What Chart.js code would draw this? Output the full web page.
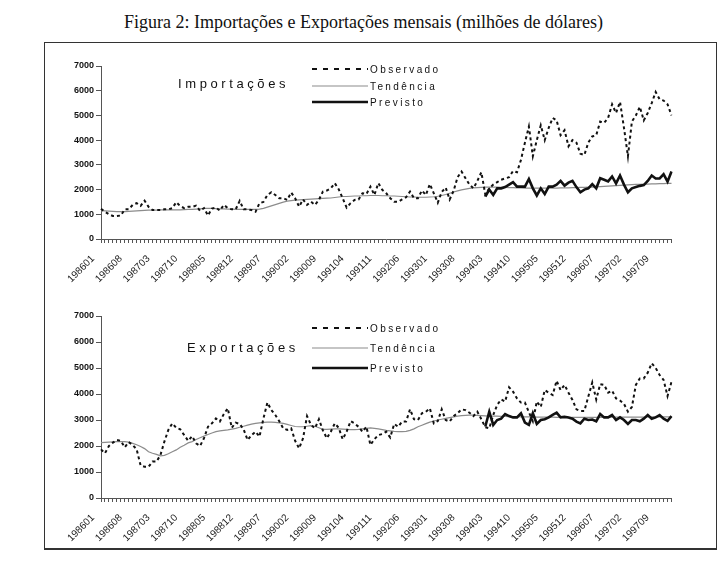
<!DOCTYPE html>
<html lang="pt">
<head>
<meta charset="utf-8">
<script src="https://cdn.jsdelivr.net/npm/chart.js@4.4.1/dist/chart.umd.min.js"></script>
<style>
  body { margin: 0; width: 727px; height: 581px; background: #fff; position: relative; overflow: hidden;
         font-family: "Liberation Sans", Arial, sans-serif; }
  #titulo { position: absolute; left: 0; top: 12px; width: 727px; text-align: center;
            font-family: "Liberation Serif", "Times New Roman", serif; font-size: 18px; color: #111; }
  #moldura { position: absolute; left: 44px; top: 42px; width: 671px; height: 505px;
             border: 1px solid #333; border-bottom-width: 2px; }
  canvas { position: absolute; left: 50px; }
  .nome { position: absolute; font-size: 13px; letter-spacing: 3.6px; color: #111; }
  .leg { position: absolute; left: 312px; height: 14px; display: flex; align-items: center;
         font-size: 10px; letter-spacing: 2.4px; color: #111; }
  .leg svg { margin-right: 2px; }
</style>
</head>
<body>
<div id="titulo">Figura 2: Importações e Exportações mensais (milhões de dólares)</div>
<div id="moldura"></div>

<canvas id="graficoImp" width="640" height="240" style="top:56px"></canvas>
<canvas id="graficoExp" width="640" height="249" style="top:306px"></canvas>

<!-- rótulos e legendas dos painéis -->
<div class="nome" style="left:178px;top:76px">Importações</div>
<div class="leg" style="top:62px"><svg width="56" height="6"><line x1="0" y1="3" x2="56" y2="3" stroke="#111" stroke-width="2" stroke-dasharray="5,6"/></svg>Observado</div>
<div class="leg" style="top:79px"><svg width="56" height="6"><line x1="0" y1="3" x2="56" y2="3" stroke="#8c8c8c" stroke-width="1.2"/></svg>Tendência</div>
<div class="leg" style="top:95px"><svg width="56" height="6"><line x1="0" y1="3" x2="56" y2="3" stroke="#111" stroke-width="2.6"/></svg>Previsto</div>

<div class="nome" style="left:187px;top:340px">Exportações</div>
<div class="leg" style="top:321px"><svg width="56" height="6"><line x1="0" y1="3" x2="56" y2="3" stroke="#111" stroke-width="2" stroke-dasharray="5,6"/></svg>Observado</div>
<div class="leg" style="top:341px"><svg width="56" height="6"><line x1="0" y1="3" x2="56" y2="3" stroke="#8c8c8c" stroke-width="1.2"/></svg>Tendência</div>
<div class="leg" style="top:361px"><svg width="56" height="6"><line x1="0" y1="3" x2="56" y2="3" stroke="#111" stroke-width="2.6"/></svg>Previsto</div>

<script>
// meses 198601 .. 198801 (145 observações)
const meses = [];
for (let i = 0; i < 145; i++) {
  const ano = 1986 + Math.floor(i / 12);
  meses.push(`${ano}${String(i % 12 + 1).padStart(2, "0")}`);
}
const inicioPrevisto = 97; // 199402

// ----------------------
// Importações
// ----------------------
const impObservado = [
  1220,1100,1000,930,930,950,1200,1200,1380,1450,
  1340,1550,1300,1170,1170,1170,1200,1200,1250,1490,
  1330,1250,1300,1300,1350,1140,1250,950,1230,1270,
  1150,1380,1250,1200,1200,1540,1200,1200,1170,1100,
  1450,1500,1780,1890,1780,1650,1650,1580,1880,1650,
  1310,1600,1380,1510,1380,1580,1920,1960,2050,2260,
  2010,1650,1270,1450,1580,1600,1850,1820,2120,1780,
  2260,1990,1850,1650,1510,1510,1600,1690,1920,1650,
  1650,1960,1780,2220,1850,1470,1900,2080,1600,1950,
  2500,2730,2460,2200,2050,2350,2700,1800,2050,2200,
  2300,2400,2450,2500,2750,2700,3200,3900,4550,3350,
  4000,4600,4000,4500,4900,4800,4200,4400,3750,4000,
  3900,3450,3400,3900,4150,4200,4750,4700,4900,5450,
  5100,5550,4500,3350,4750,5000,5350,4800,5100,5500,
  5950,5650,5600,5450,5000
];
const impTendencia = [
  1150,1140,1130,1120,1110,1110,1110,1120,1130,1140,
  1150,1160,1170,1170,1170,1180,1180,1180,1180,1180,
  1180,1190,1200,1200,1210,1220,1240,1240,1240,1230,
  1220,1220,1210,1210,1200,1200,1200,1200,1200,1200,
  1210,1240,1290,1340,1390,1440,1490,1530,1550,1570,
  1580,1590,1600,1610,1620,1630,1640,1650,1660,1680,
  1700,1720,1720,1730,1740,1740,1750,1750,1760,1760,
  1760,1750,1750,1740,1740,1730,1720,1710,1700,1700,
  1690,1690,1690,1700,1710,1730,1760,1800,1850,1900,
  1950,1990,2020,2050,2070,2080,2090,2100,2100,2100,
  2100,2090,2090,2080,2080,2070,2070,2060,2060,2060,
  2060,2060,2060,2060,2060,2060,2070,2070,2070,2080,
  2080,2090,2090,2100,2100,2110,2120,2130,2140,2150,
  2160,2170,2180,2190,2200,2210,2210,2220,2220,2230,
  2230,2240,2240,2250,2250
];
const impPrevistoValores = [
  1720,2000,1780,2050,2050,2100,2200,2300,2120,2120,
  2120,2430,2050,1760,2050,1820,2120,2120,2200,2350,
  2160,2280,2350,2100,1890,2000,2050,2220,2050,2460,
  2400,2330,2530,2250,2570,2200,1890,2050,2100,2150,
  2180,2350,2570,2450,2450,2620,2320,2730
];

// ----------------------
// Exportações
// ----------------------
const expObservado = [
  1870,1720,2000,2130,2230,2200,1950,2150,2040,1870,
  1250,1200,1200,1400,1400,1650,2170,2620,2870,2700,
  2640,2420,2200,2380,2100,2000,2300,2740,2870,3060,
  2940,3230,3450,2700,2900,2850,2640,2230,2420,2550,
  2360,3060,3670,3380,3190,2950,2680,2620,2680,2200,
  1910,2300,3150,2810,2680,3030,2600,2300,2550,2870,
  2700,2260,2550,2960,2870,2740,2550,2740,2040,2260,
  2420,2460,2550,2330,2850,2740,2940,2940,3410,3030,
  3000,3260,3320,3450,2870,2960,3410,3000,2940,3150,
  3260,3410,3380,3280,3150,3320,3030,2720,2680,3190,
  3580,3790,3710,4260,4090,3830,3670,3670,3300,2950,
  3710,3500,4150,4050,3960,4510,4150,4350,4050,3770,
  3410,3350,3350,3900,4440,3790,4380,4350,4050,4130,
  3830,3750,3620,3320,3500,4350,4600,4600,4820,5180,
  5000,4730,4540,3920,4470
];
const expTendencia = [
  2130,2140,2150,2160,2170,2170,2170,2150,2100,2050,
  1980,1900,1780,1720,1680,1620,1640,1700,1780,1850,
  1950,2030,2120,2170,2250,2320,2380,2440,2500,2550,
  2580,2600,2620,2650,2680,2720,2760,2800,2840,2870,
  2890,2910,2920,2920,2910,2890,2870,2830,2790,2750,
  2740,2740,2760,2780,2760,2700,2640,2640,2650,2660,
  2660,2650,2640,2630,2630,2640,2660,2680,2700,2680,
  2660,2630,2600,2580,2560,2550,2550,2560,2600,2660,
  2740,2800,2860,2920,2960,3000,3030,3060,3090,3120,
  3150,3170,3180,3190,3190,3180,3170,3160,3150,3150,
  3150,3140,3140,3130,3130,3130,3120,3120,3120,3120,
  3110,3110,3110,3110,3110,3100,3100,3100,3100,3100,
  3100,3100,3100,3100,3100,3100,3100,3100,3110,3110,
  3110,3110,3110,3110,3110,3110,3110,3110,3120,3120,
  3120,3120,3120,3120,3120
];
const expPrevistoValores = [
  2750,3320,2810,3000,3050,3230,3150,3100,3100,3260,
  2900,2810,3260,2850,3000,3030,3100,3200,3280,3100,
  3120,3100,3050,2940,2870,3050,3000,3020,2950,3230,
  3100,3100,3190,3000,3100,3000,2850,3000,3000,2950,
  3050,3190,3050,3100,3190,3050,2970,3150
];

const impPrevisto = Array(inicioPrevisto).fill(null).concat(impPrevistoValores);
const expPrevisto = Array(inicioPrevisto).fill(null).concat(expPrevistoValores);

// ----------------------
// Gráficos
// ----------------------
function criarGrafico(id, observado, tendencia, previsto, alturaEixoX) {
  return new Chart(document.getElementById(id), {
    type: "line",
    data: {
      labels: meses,
      datasets: [
        { label: "Previsto", data: previsto, borderColor: "#111", borderWidth: 2.6, pointRadius: 0 },
        { label: "Observado", data: observado, borderColor: "#111", borderWidth: 2, borderDash: [3, 3], pointRadius: 0 },
        { label: "Tendência", data: tendencia, borderColor: "#8c8c8c", borderWidth: 1.2, pointRadius: 0 }
      ]
    },
    options: {
      responsive: false,
      animation: false,
      devicePixelRatio: 1,
      layout: { padding: { top: 10, right: 15, left: 0, bottom: 0 } },
      elements: { line: { tension: 0 } },
      plugins: { legend: { display: false }, tooltip: { enabled: false } },
      scales: {
        x: {
          grid: { drawOnChartArea: false, tickLength: 4, color: "#555" },
          border: { color: "#555" },
          ticks: {
            autoSkip: false, minRotation: 45, maxRotation: 45, padding: 10, labelOffset: -8,
            color: "#222", font: { family: "Liberation Sans", size: 10 },
            callback: (v, i) => (i % 7 === 0 ? meses[i] : "")
          },
          afterFit: s => { s.height = alturaEixoX; }
        },
        y: {
          min: 0, max: 7000,
          grid: { drawOnChartArea: false, tickLength: 5, color: "#555" },
          border: { color: "#555" },
          ticks: { stepSize: 1000, padding: 2, color: "#111",
                   font: { family: "Liberation Sans", size: 9, weight: "bold" },
                   callback: v => String(v) },
          afterFit: s => { s.width = 51; }
        }
      }
    }
  });
}

criarGrafico("graficoImp", impObservado, impTendencia, impPrevisto, 57);
criarGrafico("graficoExp", expObservado, expTendencia, expPrevisto, 57);
</script>
</body>
</html>
